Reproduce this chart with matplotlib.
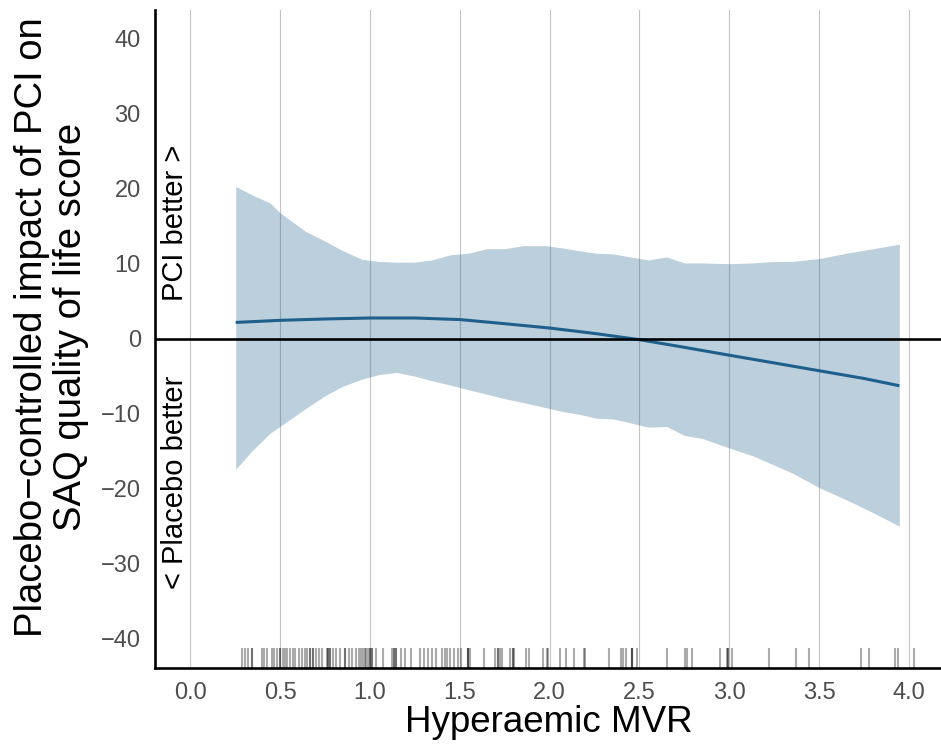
import matplotlib
matplotlib.use("Agg")
import matplotlib.pyplot as plt
import matplotlib.transforms as mtransforms

plt.rcParams['font.family'] = ['Liberation Sans', 'DejaVu Sans']

# ---- data ----
band_x = [0.252, 0.341, 0.443, 0.498, 0.642, 0.75, 0.842, 0.953, 1.046, 1.148,
          1.25, 1.343, 1.45, 1.547, 1.65, 1.75, 1.85, 1.98, 2.07, 2.17,
          2.26, 2.354, 2.447, 2.549, 2.652, 2.75, 2.85, 3.004, 3.13, 3.245,
          3.35, 3.505, 3.654, 3.802, 3.947]
band_upper = [20.3, 19.2, 18.1, 16.8, 14.3, 13.0, 11.8, 10.6, 10.3, 10.2,
              10.2, 10.5, 11.2, 11.4, 12.0, 12.0, 12.4, 12.4, 12.1, 11.7,
              11.4, 11.3, 10.9, 10.5, 10.9, 10.1, 10.1, 10.0, 10.1, 10.3,
              10.3, 10.7, 11.4, 12.0, 12.6]
band_lower = [-17.4, -15.0, -12.6, -11.7, -9.3, -7.6, -6.4, -5.4, -4.8, -4.5,
              -5.0, -5.6, -6.2, -6.8, -7.4, -8.0, -8.5, -9.2, -9.7, -10.1,
              -10.6, -10.7, -11.2, -11.8, -11.7, -12.9, -13.3, -14.6, -15.6, -16.8,
              -17.9, -19.9, -21.5, -23.2, -25.0]

fit_x = [0.252, 0.5, 0.75, 1.0, 1.25, 1.5, 1.75, 2.0, 2.25, 2.5, 2.75, 3.0,
         3.25, 3.5, 3.75, 3.947]
fit_y = [2.17, 2.45, 2.63, 2.76, 2.76, 2.55, 2.0, 1.42, 0.7, -0.13, -1.15,
         -2.2, -3.23, -4.27, -5.3, -6.27]

rug_x = [0.289, 0.304, 0.319, 0.345, 0.340, 0.397, 0.411, 0.426, 0.452, 0.467,
         0.483, 0.498, 0.498, 0.513, 0.526, 0.539, 0.554, 0.569, 0.583, 0.606,
         0.619, 0.637, 0.650, 0.665, 0.665, 0.680, 0.680, 0.698, 0.717, 0.730,
         0.758, 0.767, 0.767, 0.776, 0.776, 0.794, 0.813, 0.832, 0.859, 0.859,
         0.883, 0.902, 0.921, 0.939, 0.952, 0.961, 0.971, 0.980, 0.989, 0.998,
         0.998, 1.013, 1.013, 1.035, 1.072, 1.122, 1.132, 1.132, 1.143, 1.143,
         1.174, 1.193, 1.230, 1.276, 1.298, 1.322, 1.347, 1.369, 1.402, 1.415,
         1.428, 1.443, 1.465, 1.489, 1.504, 1.548, 1.548, 1.548, 1.559, 1.633,
         1.698, 1.711, 1.711, 1.726, 1.733, 1.782, 1.794, 1.794, 1.804, 1.869,
         1.883, 1.965, 1.983, 1.993, 2.058, 2.091, 2.133, 2.193, 2.198, 2.332,
         2.396, 2.409, 2.424, 2.456, 2.461, 2.461, 2.489, 2.656, 2.754, 2.767,
         2.794, 2.948, 2.989, 2.994, 2.994, 3.017, 3.221, 3.374, 3.443, 3.735,
         3.780, 3.921, 3.939, 4.030]

x_ticks = [0.0, 0.5, 1.0, 1.5, 2.0, 2.5, 3.0, 3.5, 4.0]
x_tick_labels = ["0.0", "0.5", "1.0", "1.5", "2.0", "2.5", "3.0", "3.5", "4.0"]
y_ticks = [-40, -30, -20, -10, 0, 10, 20, 30, 40]
y_tick_labels = ["\u221240", "\u221230", "\u221220", "\u221210", "0", "10", "20", "30", "40"]

x_title = "Hyperaemic MVR"
y_title = "Placebo\u2212controlled impact of PCI on\nSAQ quality of life score"
upper_note = "PCI better >"
lower_note = "< Placebo better"

# ---- figure ----
fig = plt.figure(figsize=(9.41, 7.51), dpi=100)
ax = fig.add_axes([0.1644, 0.1105, 0.8356, 0.876])

line_col = "#1F5F8B"
ax.fill_between(band_x, band_lower, band_upper, color="#23628E", alpha=0.3,
                linewidth=0, zorder=2)
ax.plot(fit_x, fit_y, color=line_col, lw=2.2, zorder=4, solid_capstyle="butt")
ax.axhline(0, color="black", lw=1.9, zorder=5)

trans = mtransforms.blended_transform_factory(ax.transData, ax.transAxes)
ax.vlines(rug_x, 0, 0.03, transform=trans, color="black", alpha=0.33,
          lw=1.5, zorder=3)

ax.set_xlim(-0.199, 4.179)
ax.set_ylim(-43.9, 43.8)
ax.set_xticks(x_ticks)
ax.set_xticklabels(x_tick_labels)
ax.set_yticks(y_ticks)
ax.set_yticklabels(y_tick_labels)
ax.tick_params(axis="both", length=0, labelsize=17, colors="#4D4D4D")
ax.tick_params(axis="x", pad=10)
ax.tick_params(axis="y", pad=10)

ax.grid(axis="x", color="#C4C4C4", lw=0.8, zorder=1)
ax.set_axisbelow(True)

for side in ["top", "right"]:
    ax.spines[side].set_visible(False)
for side in ["left", "bottom"]:
    ax.spines[side].set_linewidth(1.9)
    ax.spines[side].set_color("black")
    ax.spines[side].set_zorder(6)

ax.text(-0.086, 15.5, upper_note, rotation=90, ha="center", va="center",
        fontsize=21, color="black")
ax.text(-0.086, -19.1, lower_note, rotation=90, ha="center", va="center",
        fontsize=21, color="black")

fig.text(0.583, 0.0386, x_title, ha="center", va="center", fontsize=26.5)
fig.text(0.055, 0.5646, y_title, ha="center", va="center", rotation=90,
         fontsize=27.5, multialignment="center", linespacing=1.12)

fig.savefig("out.png", dpi=100)
